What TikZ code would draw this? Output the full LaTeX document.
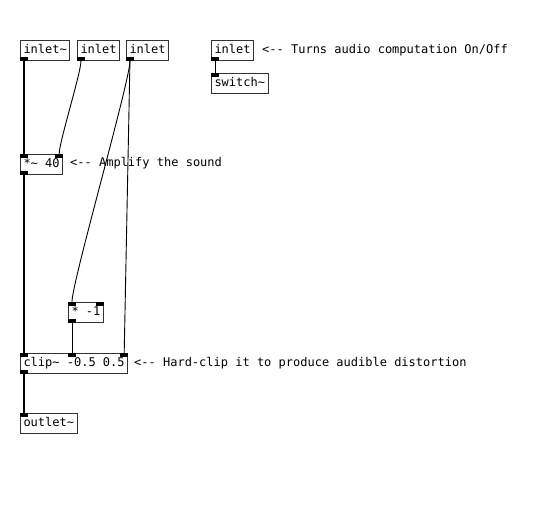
\documentclass[tikz,border=0pt]{standalone}
\usepackage{fontspec}
\setmonofont{DejaVu Sans Mono}
\usetikzlibrary{positioning}

\begin{document}
\begin{tikzpicture}[
  x=1pt, y=-1pt,
  font=\ttfamily\fontsize{12}{14}\selectfont,
  obj/.style={rectangle, draw=black!80, line width=1pt, fill=white,
              anchor=north west, inner xsep=3pt, inner ysep=0pt,
              minimum height=20pt, text height=9pt, text depth=2.5pt},
  port/.style={rectangle, fill=black, inner sep=0pt,
               minimum width=7.5pt, minimum height=3.5pt},
  note/.style={anchor=west, inner sep=0pt, text height=9pt, text depth=2.5pt},
  sig/.style={line width=2.6pt},
  ctl/.style={line width=0.9pt}
]

\useasboundingbox (0,0) rectangle (534,504);

% Objects
\node[obj] (insig)  at (20,40)   {inlet\textasciitilde};
\node[obj] (ingain) at (77,40)   {inlet};
\node[obj] (inclip) at (126,40)  {inlet};
\node[obj] (inon)   at (211,40)  {inlet};
\node[obj] (sw)     at (211,73)  {switch\textasciitilde};
\node[obj] (amp)    at (20,154)  {*\textasciitilde{} 40};
\node[obj] (neg)    at (68,302)  {* -1};
\node[obj] (clip)   at (20,353)  {clip\textasciitilde{} -0.5 0.5};
\node[obj] (out)    at (20,413)  {outlet\textasciitilde};

% Inlets and outlets
\node[port, anchor=south west] (insigo)  at (insig.south west)  {};
\node[port, anchor=south west] (ingaino) at (ingain.south west) {};
\node[port, anchor=south west] (inclipo) at (inclip.south west) {};
\node[port, anchor=south west] (inono)   at (inon.south west)   {};
\node[port, anchor=north west] (swi)     at (sw.north west)     {};
\node[port, anchor=north west] (ampi)    at (amp.north west)    {};
\node[port, anchor=north east] (ampr)    at (amp.north east)    {};
\node[port, anchor=south west] (ampo)    at (amp.south west)    {};
\node[port, anchor=north west] (negi)    at (neg.north west)    {};
\node[port, anchor=north east] (negr)    at (neg.north east)    {};
\node[port, anchor=south west] (nego)    at (neg.south west)    {};
\node[port, anchor=north west] (clipi)   at (clip.north west)   {};
\node[port, anchor=north]      (clipm)   at (negi.north |- clip.north) {};
\node[port, anchor=north east] (clipr)   at (clip.north east)   {};
\node[port, anchor=south west] (clipo)   at (clip.south west)   {};
\node[port, anchor=north west] (outi)    at (out.north west)    {};

% Signal path
\draw[sig] (insigo.south) -- (ampi.north);
\draw[sig] (ampo.south) -- (clipi.north);
\draw[sig] (clipo.south) -- (outi.north);

% Control connections
\draw[ctl] (inono.south) -- (swi.north);
\draw[ctl] (ingaino.south) .. controls +(0,12) and +(0,-12) .. (ampr.north);
\draw[ctl] (inclipo.south) .. controls +(0,20) and +(0,-20) .. (negi.north);
\draw[ctl] (inclipo.south) -- (clipr.north);
\draw[ctl] (nego.south) -- (clipm.north);

% Comments
\node[note] (c1) at (262,50)  {<-{}- Turns audio computation On/Off};
\node[note] (c2) at (70,163)  {<-{}- Amplify the sound};
\node[note] (c3) at (134,363) {<-{}- Hard-clip it to produce audible distortion};

\end{tikzpicture}
\end{document}
